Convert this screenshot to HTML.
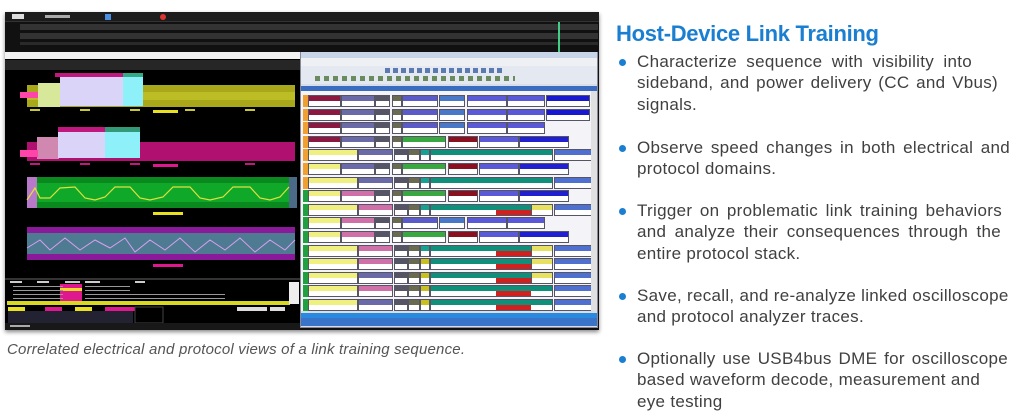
<!DOCTYPE html>
<html><head><meta charset="utf-8"><style>
*{margin:0;padding:0;box-sizing:border-box}
body{width:1022px;height:417px;background:#fff;position:relative;overflow:hidden;font-family:"Liberation Sans",sans-serif}
.a{position:absolute}
.r{font-size:17px;letter-spacing:0.3px;color:#404040;line-height:21.3px;left:637px;white-space:nowrap}
.r b{display:block;font-weight:normal;text-align:justify;text-align-last:justify;overflow:visible}
.dot{position:absolute;left:619px;width:7px;height:7px;border-radius:50%;background:#1a7fd0}
.cell{position:absolute;height:12px;border:1px solid #556}
.cell i{position:absolute;left:0;right:0;bottom:0;height:5px;background:#fff}
</style></head><body>
<div class="a" style="left:5px;top:12px;width:594px;height:318px;background:#111;box-shadow:0 2px 4px #888"></div>
<div class="a" style="left:5px;top:12px;width:594px;height:10px;background:#1c1c1c;border-bottom:1px solid #333"></div>
<div class="a" style="left:12px;top:14px;width:12px;height:5px;background:#ddd"></div>
<div class="a" style="left:45px;top:15px;width:25px;height:3px;background:#aaa"></div>
<div class="a" style="left:105px;top:14px;width:6px;height:6px;background:#4a8ee0"></div>
<div class="a" style="left:160px;top:14px;width:6px;height:6px;border-radius:50%;background:#d33"></div>
<div class="a" style="left:20px;top:24px;width:578px;height:6px;background:#333"></div>
<div class="a" style="left:20px;top:33px;width:578px;height:6px;background:#333"></div>
<div class="a" style="left:20px;top:42px;width:578px;height:3px;background:#2a2a2a"></div>
<div class="a" style="left:558px;top:22px;width:2px;height:30px;background:#4c8"></div>
<div class="a" style="left:5px;top:52px;width:295px;height:278px;background:#000"></div>
<div class="a" style="left:5px;top:52px;width:295px;height:7px;background:#f2f2f2"></div>
<div class="a" style="left:5px;top:60px;width:295px;height:10px;background:#262626"></div>
<svg class="a" style="left:5px;top:70px" width="295" height="260">
 <rect x="22" y="15" width="268" height="22" fill="#a9a81a"/>
 <rect x="22" y="22" width="268" height="8" fill="#cfcf30" opacity=".5"/>
 <rect x="33" y="13" width="22" height="24" fill="#d7e89a"/>
 <rect x="50" y="3" width="68" height="4" fill="#c0187e"/>
 <rect x="55" y="7" width="63" height="29" fill="#d9d4f8"/>
 <rect x="118" y="7" width="20" height="29" fill="#8ef0f8"/>
 <rect x="118" y="3" width="20" height="4" fill="#3a8"/>
 <rect x="15" y="22" width="18" height="6" fill="#f4a"/>
 <rect x="148" y="40" width="25" height="3" fill="#e8e020"/>
 <rect x="22" y="72" width="268" height="19" fill="#b01070"/>
 <rect x="32" y="67" width="22" height="22" fill="#d088b0"/>
 <rect x="53" y="57" width="47" height="5" fill="#c0187e"/>
 <rect x="53" y="62" width="47" height="26" fill="#d9d4f8"/>
 <rect x="100" y="57" width="35" height="5" fill="#397"/>
 <rect x="100" y="62" width="35" height="26" fill="#8ef0f8"/>
 <rect x="15" y="80" width="18" height="7" fill="#f4a"/>
 <rect x="148" y="94" width="25" height="3" fill="#e01890"/>
 <rect x="22" y="107" width="268" height="31" fill="#0a8a1e"/>
 <rect x="22" y="113" width="268" height="19" fill="#10a828"/>
 <rect x="22" y="107" width="10" height="31" fill="#b87ac8"/>
 <rect x="284" y="107" width="8" height="31" fill="#4a6a88"/>
 <polyline fill="none" stroke="#e0e040" stroke-width="1.2" points="22,130 30,118 35,128 45,128 55,118 70,117 80,128 90,130 100,127 110,117 125,117 135,128 145,130 158,127 168,117 185,117 195,128 205,130 218,127 228,117 245,117 255,128 265,130 275,127 284,117"/>
 <rect x="148" y="142" width="30" height="3" fill="#e8e020"/>
 <rect x="22" y="157" width="268" height="6" fill="#8a1a9a"/>
 <rect x="22" y="163" width="268" height="21" fill="#4e7a92"/>
 <rect x="22" y="184" width="268" height="6" fill="#8a1a9a"/>
 <polyline fill="none" stroke="#d8a0f0" stroke-width="1" points="22,178 35,170 45,180 60,168 75,180 90,170 105,178 120,168 130,182 145,170 160,180 175,168 190,182 205,170 220,180 235,168 250,182 265,170 280,180 290,170"/>
 <rect x="148" y="194" width="30" height="3" fill="#e01890"/>
 <g fill="#c8c830"><rect x="25" y="39" width="10" height="2"/><rect x="75" y="39" width="10" height="2"/><rect x="125" y="39" width="10" height="2"/><rect x="180" y="39" width="10" height="2"/><rect x="240" y="39" width="10" height="2"/></g>
 <g fill="#c01880"><rect x="25" y="93" width="10" height="2"/><rect x="75" y="93" width="10" height="2"/><rect x="125" y="93" width="10" height="2"/><rect x="240" y="93" width="10" height="2"/></g>
 <rect x="0" y="208" width="295" height="2" fill="#333"/>
 <g fill="#ccc"><rect x="5" y="211" width="12" height="2"/><rect x="32" y="211" width="12" height="2"/><rect x="60" y="211" width="15" height="2"/><rect x="80" y="211" width="15" height="2"/><rect x="130" y="211" width="10" height="2"/></g>
 <rect x="55" y="214" width="22" height="17" fill="#e01890"/>
 <rect x="55" y="218" width="22" height="3" fill="#e8e020"/>
 <g fill="#999"><rect x="8" y="216" width="50" height="1"/><rect x="8" y="220" width="50" height="1"/><rect x="8" y="224" width="50" height="1"/><rect x="8" y="228" width="50" height="1"/><rect x="80" y="216" width="45" height="1"/><rect x="80" y="220" width="45" height="1"/><rect x="80" y="224" width="140" height="1"/><rect x="80" y="228" width="140" height="1"/></g>
 <rect x="2" y="231" width="283" height="4" fill="#d8d820"/>
 <rect x="284" y="212" width="10" height="22" fill="#eee"/>
 <rect x="3" y="237" width="17" height="4" fill="#e8e020"/><rect x="40" y="237" width="17" height="4" fill="#e01890"/><rect x="70" y="237" width="17" height="4" fill="#e8e020"/><rect x="100" y="237" width="30" height="4" fill="#e01890"/>
 <rect x="3" y="241" width="125" height="12" fill="#223"/>
 <rect x="130" y="237" width="28" height="16" fill="#000" stroke="#444"/>
 <rect x="232" y="237" width="30" height="4" fill="#ddd"/><rect x="265" y="237" width="15" height="4" fill="#ddd"/>
 <rect x="0" y="253" width="295" height="7" fill="#181818"/>
 <rect x="5" y="255" width="20" height="2" fill="#aaa"/>
</svg>
<div class="a" style="left:300px;top:52px;width:298px;height:276px;background:#d8dde8;border:1px solid #889"></div>
<div class="a" style="left:301px;top:52px;width:296px;height:6px;background:#c8d4e8"></div>
<div class="a" style="left:301px;top:58px;width:296px;height:8px;background:#eef0f4"></div>
<div class="a" style="left:301px;top:66px;width:296px;height:18px;background:#e4e8f0"></div>
<div class="a" style="left:385px;top:68px;width:120px;height:5px;background:repeating-linear-gradient(90deg,#5a7ab0 0 5px,#e4e8f0 5px 8px)"></div>
<div class="a" style="left:315px;top:76px;width:200px;height:5px;background:repeating-linear-gradient(90deg,#6a8a60 0 5px,#e4e8f0 5px 9px)"></div>
<div class="a" style="left:301px;top:86px;width:296px;height:5px;background:#3a6cc0"></div>
<div class="a" id="list" style="left:301px;top:91px;width:290px;height:220px;background:#f4f4f8;overflow:hidden"></div>
<div class="a" style="left:591px;top:91px;width:6px;height:220px;background:#e0e0e0"></div>
<div class="a" style="left:301px;top:313px;width:296px;height:5px;background:#2a8ae0"></div>
<div class="a" style="left:301px;top:318px;width:296px;height:8px;background:#3a74c8"></div>
<script>
var L=document.getElementById('list'),h='';
function c(x,w,col,y){h+='<div class="cell" style="left:'+x+'px;top:'+y+'px;width:'+w+'px;background:'+col+'"><i></i></div>';}
var T=['A','A','A','B','C','D','C','D','C','E','D','C','C','C','C','C'];
var S=['l','l','l','l','l','l','l','r','r','r','r','r','r','l','r','l'];
for(var i=0;i<16;i++){var y=4+i*13.6,t=T[i],side=S[i]=='l'?'#6a6aa8':'#d070a8';
 var mk=t=='C'&&i>7||(t!='A'&&t!='B'&&i>6)?'#20a040':'#f0a030';
 h+='<div class="a" style="left:2px;top:'+y+'px;width:6px;height:12px;background:'+mk+'"></div>';
 if(t=='C'){c(7,50,'#f0f080',y);c(57,35,side,y);c(93,14,'#556',y);c(107,12,'#6a6a50',y);c(119,10,i>11?'#c8c020':'#18a090',y);c(129,123,'#10907a',y);c(253,40,'#5070d0',y);
   if(i>7&&i!=14&&i!=15){c(230,22,'#e8e060',y);} if(i>7) h+='<div class="a" style="left:195px;top:'+(y+6)+'px;width:35px;height:5px;background:#d02020"></div>';}
 else{c(7,33,(t=='A'||t=='B')?'#8a1840':'#f0f080',y);c(40,34,side,y);c(74,15,'#556',y);c(91,10,'#6a6a50',y);
  if(t=='A'||t=='E'){c(101,36,'#5a5ac8',y);c(138,26,'#4a78c8',y);c(166,40,'#5a5ad8',y);c(206,38,'#5858d8',y);if(i<2)c(245,44,'#1818d0',y);}
  else{c(101,44,'#3aa840',y);c(147,30,'#8a1020',y);c(178,40,'#5a5ad8',y);c(218,50,'#2020d0',y);}}
}
L.innerHTML=h;
</script>
<div class="a" style="left:7px;top:341px;font-size:15px;letter-spacing:0.2px;font-style:italic;color:#555;white-space:nowrap">Correlated electrical and protocol views of a link training sequence.</div>
<div class="a" style="left:616px;top:21px;font-size:22px;font-weight:bold;color:#1a7fd0;white-space:nowrap;letter-spacing:-0.3px">Host-Device Link Training</div>
<div class="dot" style="top:59px"></div>
<div class="a r" style="top:51px"><b style="width:335px">Characterize sequence with visibility into</b><b style="width:361px">sideband, and power delivery (CC and Vbus)</b>signals.</div>
<div class="dot" style="top:145px"></div>
<div class="a r" style="top:137px"><b style="width:373px">Observe speed changes in both electrical and</b>protocol domains.</div>
<div class="dot" style="top:208px"></div>
<div class="a r" style="top:200px"><b style="width:365px">Trigger on problematic link training behaviors</b><b style="width:364px">and analyze their consequences through the</b>entire protocol stack.</div>
<div class="dot" style="top:293px"></div>
<div class="a r" style="top:285px"><b style="width:371px">Save, recall, and re-analyze linked oscilloscope</b>and protocol analyzer traces.</div>
<div class="dot" style="top:356px"></div>
<div class="a r" style="top:348px"><b style="width:371px">Optionally use USB4bus DME for oscilloscope</b><b style="width:343px">based waveform decode, measurement and</b>eye testing</div>
</body></html>
